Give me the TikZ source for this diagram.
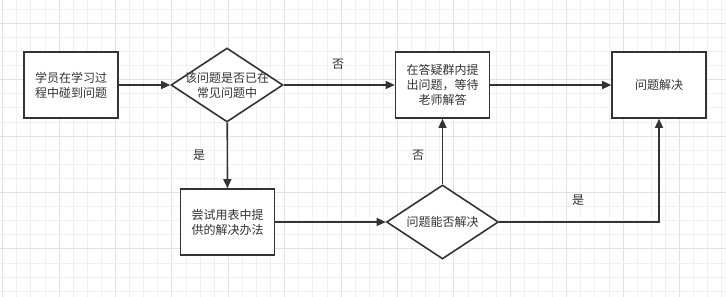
\documentclass[tikz,border=0pt]{standalone}
\usepackage{fontspec}
\newfontfamily\cjk{Noto Sans CJK SC}
\usetikzlibrary{shapes.geometric,arrows.meta}
\definecolor{lc}{HTML}{333333}
\definecolor{gmin}{HTML}{F0F0F0}
\definecolor{gmaj}{HTML}{E2E2E2}
\begin{document}
\begin{tikzpicture}[x=1pt,y=-1pt,
  txt/.style={text=lc, font=\cjk\fontsize{12}{15}\selectfont},
  box/.style={txt, draw=lc, line width=1.6pt, minimum width=94pt, minimum height=66pt, inner sep=0pt, align=center, fill=white},
  dia/.style={diamond, draw=lc, line width=1.6pt, minimum width=112pt, minimum height=74pt, inner sep=0pt, fill=white},
  dtext/.style={txt, align=center},
  conn/.style={draw=lc, line width=1.4pt, -{Triangle[length=9pt,width=8pt]}},
  lab/.style={txt, inner sep=0pt},
  gminor/.style={draw=gmin, line width=0.9pt},
  gmajor/.style={draw=gmaj, line width=0.9pt}
]
\useasboundingbox (0,0) rectangle (726,297);
\fill[white] (0,0) rectangle (726,297);
% grid
\foreach \k in {0,...,51}{
  \pgfmathsetmacro{\xx}{2.7+14.1*\k}
  \pgfmathtruncatemacro{\m}{mod(\k,4)}
  \ifnum\m=0 \draw[gmajor] (\xx,0) -- (\xx,297); \else \draw[gminor] (\xx,0) -- (\xx,297); \fi
}
\foreach \k in {0,...,20}{
  \pgfmathsetmacro{\yy}{9.2+14.1*\k}
  \pgfmathtruncatemacro{\m}{mod(\k,4)}
  \ifnum\m=1 \draw[gmajor] (0,\yy) -- (726,\yy); \else \draw[gminor] (0,\yy) -- (726,\yy); \fi
}
% nodes
\node[box] (start) at (71,85) {学员在学习过\\程中碰到问题};
\node[dia, label={[dtext]center:该问题是否已在\\常见问题中}] (q1) at (227,85) {};
\node[box] (ask) at (442.5,85) {在答疑群内提\\出问题，等待\\老师解答};
\node[box] (done) at (659,85) {问题解决};
\node[box] (try) at (227.5,222) {尝试用表中提\\供的解决办法};
\node[dia, label={[dtext]center:问题能否解决}] (q2) at (442.5,222) {};
% connectors
\draw[conn] (start) -- (q1);
\draw[conn] (q1) -- (ask);
\draw[conn] (q1) -- (try);
\draw[conn] (ask) -- (done);
\draw[conn] (try) -- (q2);
\draw[conn] (q2) -- (ask);
\draw[conn] (q2.east) -| (done.south);
% labels
\node[lab] (l1) at (338,64) {否};
\node[lab] (l2) at (199,155) {是};
\node[lab] (l3) at (418,155) {否};
\node[lab] (l4) at (578,200) {是};
\end{tikzpicture}
\end{document}
